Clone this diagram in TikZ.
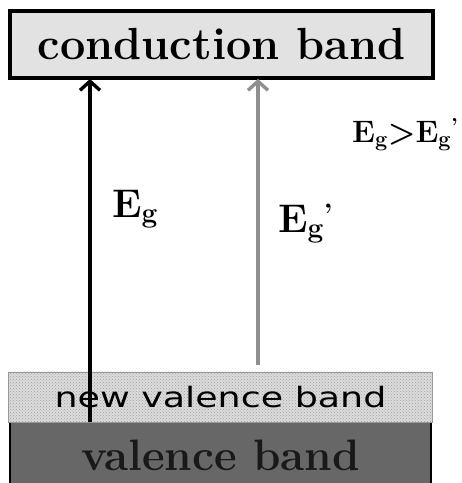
\documentclass[tikz,border=0pt]{standalone}
\usepackage{fontspec}
\usepackage{tikz}
\usetikzlibrary{arrows.meta, positioning, patterns}
\newfontfamily\bandsans{DejaVu Sans}
\definecolor{cbfill}{HTML}{E2E2E2}
\definecolor{nvbfill}{HTML}{DCDCDC}
\definecolor{vbfill}{HTML}{676767}
\definecolor{gaparrow}{HTML}{8F8F8F}
\tikzset{
  band/.style={
    minimum width=423pt, inner sep=0pt, outer sep=0pt
  },
  gaplabel/.style={font=\bfseries, inner sep=0pt},
  barrow/.style={-{Straight Barb[length=9pt, width=20pt]}, line width=3.4pt},
  garrow/.style={barrow, color=gaparrow}
}

\begin{document}
\begin{tikzpicture}[x=1pt, y=1pt]
    \useasboundingbox (0,0) rectangle (462,483);

    \node[band, draw=black, line width=3.5pt, fill=cbfill, minimum height=67pt,
          font=\fontsize{45}{50}\selectfont\bfseries] (CB) at (221.5,438.5)
          {conduction band};

    \node[band, draw=black, line width=2.5pt, fill=vbfill, minimum height=67pt,
          minimum width=421pt,
          font=\fontsize{44}{48}\selectfont\bfseries, text=black!90] (VB) at (220.5,27.5)
          {valence band};

    \node[band, draw=gray!80, line width=0.8pt, minimum height=50pt, minimum width=424pt,
          preaction={fill=nvbfill}, pattern=crosshatch dots, pattern color=gray!75,
          font=\bandsans\fontsize{28}{32}\selectfont, above=0pt of VB] (NVB)
          {\scalebox{1.3}[1]{new valence band}};

    % gap arrows
    \coordinate (eg) at (90,0);
    \coordinate (egp) at (258,0);
    \draw[barrow] (eg |- VB.north) -- ([yshift=-1pt]eg |- CB.south);
    \draw[garrow] ([yshift=7pt]egp |- NVB.north) -- ([yshift=-1pt]egp |- CB.south);

    \node[gaplabel, anchor=base west, font=\fontsize{40}{44}\selectfont\bfseries] (Eg) at (112,265)
      {E\textsubscript{g}};
    \node[gaplabel, anchor=base west, font=\fontsize{40}{44}\selectfont\bfseries] (EgPrime) at (278,250)
      {E\textsubscript{g}\textsuperscript{'}};
    \node[gaplabel, anchor=base west, font=\fontsize{31}{34}\selectfont\bfseries] (ineq) at (352,340)
      {E\textsubscript{g}>E\textsubscript{g}\textsuperscript{'}};
\end{tikzpicture}
\end{document}
